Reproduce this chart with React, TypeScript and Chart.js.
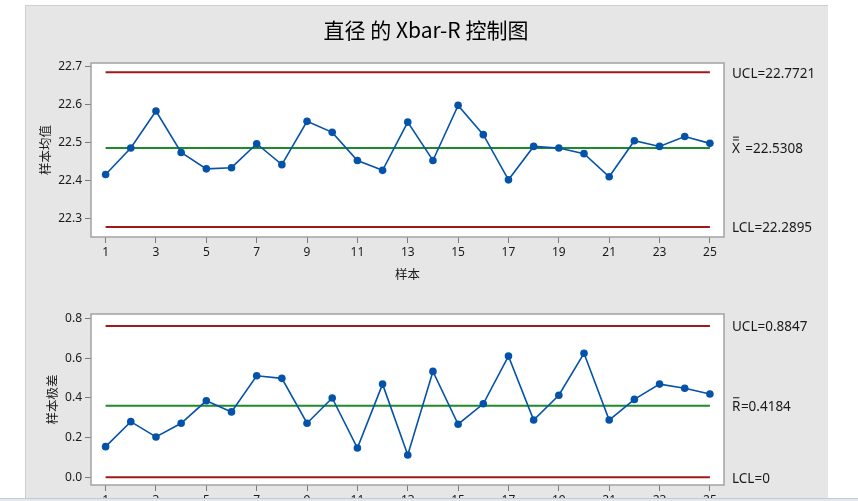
import React, { useEffect, useRef } from "react";
import { Chart, registerables } from "chart.js";

Chart.register(...registerables);

// ---------------- data ----------------
const samples = [1, 2, 3, 4, 5, 6, 7, 8, 9, 10, 11, 12, 13, 14, 15, 16, 17, 18, 19, 20, 21, 22, 23, 24, 25];
const xbarValues = [
  22.417, 22.487, 22.584, 22.475, 22.432, 22.435, 22.498, 22.443, 22.557, 22.528,
  22.454, 22.428, 22.555, 22.454, 22.599, 22.522, 22.403, 22.491, 22.487, 22.472,
  22.411, 22.506, 22.491, 22.517, 22.499,
];
const rangeValues = [
  0.154, 0.28, 0.203, 0.272, 0.385, 0.329, 0.511, 0.498, 0.272, 0.399,
  0.147, 0.469, 0.112, 0.533, 0.267, 0.37, 0.61, 0.288, 0.413, 0.624,
  0.288, 0.392, 0.469, 0.448, 0.419,
];
// control lines as drawn: UCL, centre, LCL
const xbarLimits = [22.686, 22.487, 22.279];
const xbarLimitLabels = ["UCL=22.7721", "=22.5308", "LCL=22.2895"];
const rangeLimits = [0.761, 0.36, 0.0];
const rangeLimitLabels = ["UCL=0.8847", "=0.4184", "LCL=0"];
const xTickValues = [1, 3, 5, 7, 9, 11, 13, 15, 17, 19, 21, 23, 25];
const xbarTickValues = [22.3, 22.4, 22.5, 22.6, 22.7];
const rangeTickValues = [0.0, 0.2, 0.4, 0.6, 0.8];

const TITLE = "直径 的 Xbar-R 控制图";
const XBAR_YTITLE = "样本均值";
const RANGE_YTITLE = "样本极差";
const XTITLE = "样本";

const BLUE = "#0453a8";
const RED = "#a01818";
const GREEN = "#1f8a2a";
const FRAME = "#a3a3a3";
const TEXT = "#1a1a1a";
const LATIN = "'Noto Sans', 'Open Sans', sans-serif";
const CJK = "'Noto Sans CJK SC', sans-serif";

type Props = {
  width: number;
  height: number;
  values: number[];
  limits: number[];
  limitLabels: string[];
  yMin: number;
  yMax: number;
  yTicks: number[];
  decimals: number;
  yTitle: string;
  yTitleX: number;
  xTitle?: string;
  title?: string;
  padTop: number;
  xAxisHeight: number;
  centerSymbol: "X" | "R";
};

function ControlChart(p: Props) {
  const ref = useRef<HTMLCanvasElement | null>(null);
  useEffect(() => {
    if (!ref.current) return;
    const lineData = (v: number) => [
      { x: samples[0], y: v },
      { x: samples[samples.length - 1], y: v },
    ];
    const decor = {
      id: "decor",
      beforeDraw(chart: any) {
        const ctx = chart.ctx as CanvasRenderingContext2D;
        const ca = chart.chartArea;
        ctx.save();
        ctx.fillStyle = "#ffffff";
        ctx.fillRect(ca.left, ca.top, ca.right - ca.left, ca.bottom - ca.top);
        ctx.restore();
      },
      afterDraw(chart: any) {
        const ctx = chart.ctx as CanvasRenderingContext2D;
        const ca = chart.chartArea;
        const ys = chart.scales.y;
        ctx.save();
        // frame
        ctx.strokeStyle = FRAME;
        ctx.lineWidth = 1.5;
        ctx.strokeRect(ca.left, ca.top, ca.right - ca.left, ca.bottom - ca.top);
        ctx.fillStyle = "#000";
        // title
        if (p.title) {
          ctx.font = `21px ${CJK}`;
          ctx.textAlign = "center";
          ctx.textBaseline = "middle";
          ctx.fillText(p.title, 401, 25);
        }
        // x title
        if (p.xTitle) {
          ctx.font = `12.5px ${CJK}`;
          ctx.textAlign = "center";
          ctx.textBaseline = "middle";
          ctx.fillStyle = TEXT;
          ctx.fillText(p.xTitle, (ca.left + ca.right) / 2, ca.bottom + 37);
        }
        // y title
        ctx.save();
        ctx.translate(p.yTitleX, (ca.top + ca.bottom) / 2);
        ctx.rotate(-Math.PI / 2);
        ctx.font = `12.5px ${CJK}`;
        ctx.textAlign = "center";
        ctx.textBaseline = "middle";
        ctx.fillStyle = TEXT;
        ctx.fillText(p.yTitle, 0, 0);
        ctx.restore();
        // limit labels
        ctx.font = `13.5px ${LATIN}`;
        ctx.textAlign = "left";
        ctx.textBaseline = "middle";
        ctx.fillStyle = TEXT;
        const lx = ca.right + 8;
        p.limits.forEach((v, i) => {
          const y = ys.getPixelForValue(v) + 1.5;
          const label = p.limitLabels[i];
          if (i === 1) {
            const w = ctx.measureText(p.centerSymbol).width;
            ctx.fillText(p.centerSymbol, lx, y);
            ctx.strokeStyle = TEXT;
            ctx.lineWidth = 1;
            ctx.beginPath();
            ctx.moveTo(lx + 1, y - 9.5);
            ctx.lineTo(lx + w - 1, y - 9.5);
            if (p.centerSymbol === "X") {
              ctx.moveTo(lx + 1, y - 12.3);
              ctx.lineTo(lx + w - 1, y - 12.3);
            }
            ctx.stroke();
            const gap = p.centerSymbol === "X" ? 13.3 : w + 0.5;
            ctx.fillText(label, lx + gap, y);
          } else {
            ctx.fillText(label, lx, y);
          }
        });
        ctx.restore();
      },
    };
    const chart = new Chart(ref.current, {
      type: "line",
      data: {
        datasets: [
          {
            data: samples.map((s, i) => ({ x: s, y: p.values[i] })),
            borderColor: BLUE,
            backgroundColor: BLUE,
            borderWidth: 1.6,
            pointRadius: 3.8,
            pointBorderWidth: 0,
            pointBackgroundColor: BLUE,
            tension: 0,
          },
          { data: lineData(p.limits[0]), borderColor: RED, borderWidth: 2, pointRadius: 0 },
          { data: lineData(p.limits[1]), borderColor: GREEN, borderWidth: 2, pointRadius: 0 },
          { data: lineData(p.limits[2]), borderColor: RED, borderWidth: 2, pointRadius: 0 },
        ],
      },
      options: {
        responsive: false,
        maintainAspectRatio: false,
        animation: false,
        devicePixelRatio: 1,
        layout: { padding: { top: p.padTop, right: 104, left: 0, bottom: 0 } },
        plugins: { legend: { display: false }, tooltip: { enabled: false }, title: { display: false } },
        scales: {
          x: {
            type: "linear",
            min: 0.42,
            max: 25.56,
            afterBuildTicks: (s: any) => {
              s.ticks = xTickValues.map((v) => ({ value: v }));
            },
            afterFit: (s: any) => {
              s.height = p.xAxisHeight;
            },
            ticks: {
              autoSkip: false,
              maxRotation: 0,
              padding: 2,
              color: TEXT,
              font: { family: LATIN, size: 12 },
              callback: (v: any) => String(v),
            },
            grid: { drawOnChartArea: false, drawTicks: true, tickLength: 6, tickColor: "#7a7a7a", tickWidth: 1 },
            border: { display: false },
          },
          y: {
            type: "linear",
            min: p.yMin,
            max: p.yMax,
            afterBuildTicks: (s: any) => {
              s.ticks = p.yTicks.map((v) => ({ value: v }));
            },
            afterFit: (s: any) => {
              s.width = 66;
            },
            ticks: {
              padding: 3,
              color: TEXT,
              font: { family: LATIN, size: 12 },
              callback: (v: any) => Number(v).toFixed(p.decimals),
            },
            grid: { drawOnChartArea: false, drawTicks: true, tickLength: 6, tickColor: "#7a7a7a", tickWidth: 1 },
            border: { display: false },
          },
        },
      },
      plugins: [decor],
    } as any);
    return () => chart.destroy();
  }, []);
  return (
    <canvas
      ref={ref}
      width={p.width}
      height={p.height}
      style={{ width: p.width, height: p.height, display: "block" }}
    />
  );
}

export default function App() {
  return (
    <div style={{ position: "absolute", left: 0, top: 0, width: 858, height: 501, overflow: "hidden", background: "#ffffff" }}>
      <div
        style={{
          position: "absolute",
          left: 25,
          top: 5,
          width: 803,
          height: 496,
          background: "#e6e6e6",
          boxShadow: "inset 1px 1px 0 #cfcfcf",
        }}
      />
      <div style={{ position: "absolute", left: 25, top: 5 }}>
        <ControlChart
          width={803}
          height={285}
          values={xbarValues}
          limits={xbarLimits}
          limitLabels={xbarLimitLabels}
          yMin={22.2526}
          yMax={22.7105}
          yTicks={xbarTickValues}
          decimals={1}
          yTitle={XBAR_YTITLE}
          yTitleX={20}
          xTitle={XTITLE}
          title={TITLE}
          padTop={58}
          xAxisHeight={53}
          centerSymbol="X"
        />
      </div>
      <div style={{ position: "absolute", left: 25, top: 290 }}>
        <ControlChart
          width={803}
          height={211}
          values={rangeValues}
          limits={rangeLimits}
          limitLabels={rangeLimitLabels}
          yMin={-0.039}
          yMax={0.822}
          yTicks={rangeTickValues}
          decimals={1}
          yTitle={RANGE_YTITLE}
          yTitleX={27}
          padTop={24}
          xAxisHeight={16}
          centerSymbol="R"
        />
      </div>
      <div
        style={{
          position: "absolute",
          left: 0,
          top: 498,
          width: 858,
          height: 3,
          background: "#e3e8ee",
          borderTop: "1px solid #c3ccd6",
          boxSizing: "border-box",
        }}
      />
    </div>
  );
}
